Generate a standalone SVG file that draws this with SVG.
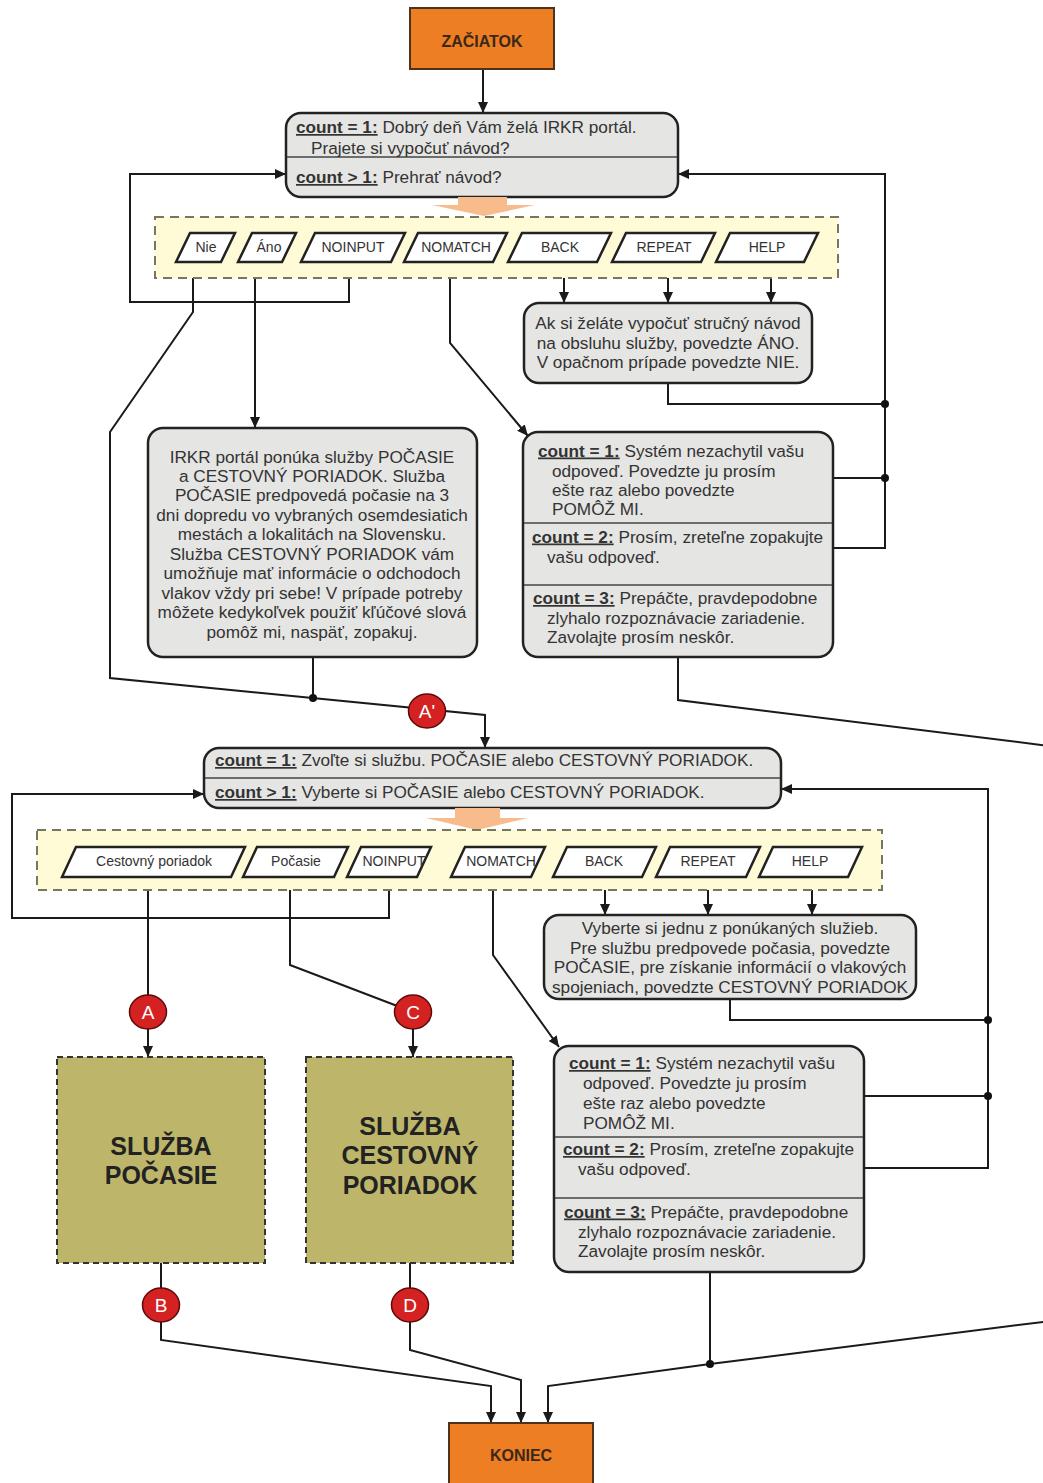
<svg xmlns="http://www.w3.org/2000/svg" width="1043" height="1483" viewBox="0 0 1043 1483">
  <defs>
    <marker id="ah" viewBox="0 0 11 10" refX="11" refY="5" markerWidth="11" markerHeight="10" markerUnits="userSpaceOnUse" orient="auto">
      <path d="M0,0 L11,5 L0,10 z" fill="#1a1a1a"/>
    </marker>
    <style>
      text { font-family: "Liberation Sans", Arial, sans-serif; fill: #333; }
      .box { fill: #E5E5E3; stroke: #222; stroke-width: 2.5; }
      .sep { stroke: #444; stroke-width: 1.6; }
      .t { font-size: 17.2px; }
      .c { text-anchor: middle; }
      .k { font-weight: bold; text-decoration: underline; }
      .band { fill: #FEFBD6; stroke: #77775c; stroke-width: 2; stroke-dasharray: 9 6; }
      .par { fill: #fff; stroke: #222; stroke-width: 2.5; }
      .pt { font-size: 14px; text-anchor: middle; }
      .ln { fill: none; stroke: #1a1a1a; stroke-width: 2; }
      .arr { marker-end: url(#ah); }
      .dot { fill: #111; }
      .term { fill: #EE7E24; stroke: #4e321c; stroke-width: 2; }
      .tt { font-size: 16px; font-weight: bold; text-anchor: middle; fill: #3a2818; }
      .svc { fill: #BDB66A; stroke: #333; stroke-width: 2; stroke-dasharray: 6 4; }
      .st { font-size: 25px; font-weight: bold; text-anchor: middle; fill: #222; }
      .ring { fill: #D42222; stroke: #5e0a0a; stroke-width: 1.5; }
      .rt { font-size: 19px; text-anchor: middle; fill: #fff; }
      .blk { fill: #F8BC8C; }
    </style>
  </defs>

  <!-- connectors -->
  <g id="connectors">
    <path class="ln arr" d="M483,69 V113"/>
    <!-- first menu: loops back to the welcome prompt -->
    <path class="ln arr" d="M349,262 V302 H130 V174 H286"/>
    <path class="ln arr" d="M833,548 H885 V174 H678"/>
    <path class="ln" d="M833,478 H885"/>
    <path class="ln" d="M668,383 V404 H885"/>
    <circle class="dot" cx="885" cy="404" r="4"/>
    <circle class="dot" cx="885" cy="478" r="4"/>
    <!-- first menu outputs -->
    <path class="ln arr" d="M255,262 V428"/>
    <path class="ln arr" d="M450,262 V343 L528,436"/>
    <path class="ln arr" d="M564,262 V303"/>
    <path class="ln arr" d="M668,262 V303"/>
    <path class="ln arr" d="M771,262 V303"/>
    <path class="ln arr" d="M193,262 V312 L110,432 V678 L485,715 V748"/>
    <path class="ln" d="M313,657 V698"/>
    <circle class="dot" cx="313" cy="698" r="4"/>
    <path class="ln" d="M678,657 V700 L1050,746"/>
    <!-- second menu: loops back to the service prompt -->
    <path class="ln arr" d="M389,877 V918 H12 V794 H204"/>
    <path class="ln arr" d="M864,1168 H988 V789 H781"/>
    <path class="ln" d="M864,1096 H988"/>
    <path class="ln" d="M730,999 V1020 H988"/>
    <circle class="dot" cx="988" cy="1020" r="4"/>
    <circle class="dot" cx="988" cy="1096" r="4"/>
    <!-- second menu outputs -->
    <path class="ln" d="M148,877 V1012"/>
    <path class="ln arr" d="M148,1029 V1057"/>
    <path class="ln" d="M290,877 V965 L413,1012"/>
    <path class="ln arr" d="M413,1029 V1057"/>
    <path class="ln arr" d="M493,877 V955 L559,1047"/>
    <path class="ln arr" d="M605,877 V915"/>
    <path class="ln arr" d="M708,877 V915"/>
    <path class="ln arr" d="M812,877 V915"/>
    <!-- paths to the end -->
    <path class="ln" d="M161,1263 V1305"/>
    <path class="ln arr" d="M161,1305 V1340 L491,1386 V1423"/>
    <path class="ln" d="M410,1263 V1305"/>
    <path class="ln arr" d="M410,1305 V1350 L521,1380 V1423"/>
    <path class="ln arr" d="M1050,1321 L710,1364 L548,1386 V1423"/>
    <path class="ln" d="M710,1272 V1364"/>
    <circle class="dot" cx="710" cy="1364" r="4"/>
  </g>

  <!-- start terminal -->
  <g id="start">
    <rect class="term" x="410" y="8" width="144" height="61"/>
    <text class="tt" x="482" y="47">ZAČIATOK</text>
  </g>

  <!-- welcome prompt -->
  <g id="welcome">
    <rect class="box" x="286" y="113" width="392" height="84" rx="15"/>
    <line class="sep" x1="287" y1="157" x2="677" y2="157"/>
    <text class="t" x="296" y="133"><tspan class="k">count = 1:</tspan> Dobrý deň Vám želá IRKR portál.</text>
    <text class="t" x="311" y="154">Prajete si vypočuť návod?</text>
    <text class="t" x="296" y="183"><tspan class="k">count &gt; 1:</tspan> Prehrať návod?</text>
  </g>
  <polygon id="flow1" class="blk" points="458,197 507,197 507,205 535,205 484,216 432,205 458,205"/>

  <!-- first choice band -->
  <g id="menu1">
    <rect class="band" x="155" y="217" width="683" height="61"/>
    <g id="m1-nie"><polygon class="par" points="190,233 235,233 221,262 176,262"/><text class="pt" x="206" y="252">Nie</text></g>
    <g id="m1-ano"><polygon class="par" points="252,233 296,233 282,262 238,262"/><text class="pt" x="269" y="252">Áno</text></g>
    <g id="m1-noinput"><polygon class="par" points="315,233 405,233 391,262 301,262"/><text class="pt" x="353" y="252">NOINPUT</text></g>
    <g id="m1-nomatch"><polygon class="par" points="418,233 507,233 493,262 404,262"/><text class="pt" x="456" y="252">NOMATCH</text></g>
    <g id="m1-back"><polygon class="par" points="522,233 611,233 597,262 508,262"/><text class="pt" x="560" y="252">BACK</text></g>
    <g id="m1-repeat"><polygon class="par" points="626,233 715,233 701,262 612,262"/><text class="pt" x="664" y="252">REPEAT</text></g>
    <g id="m1-help"><polygon class="par" points="730,233 818,233 804,262 716,262"/><text class="pt" x="767" y="252">HELP</text></g>
  </g>

  <!-- help for the first menu -->
  <g id="help1">
    <rect class="box" x="524" y="303" width="288" height="80" rx="15"/>
    <text class="t c" x="668" y="329">Ak si želáte vypočuť stručný návod</text>
    <text class="t c" x="668" y="349">na obsluhu služby, povedzte ÁNO.</text>
    <text class="t c" x="668" y="368">V opačnom prípade povedzte NIE.</text>
  </g>

  <!-- instructions -->
  <g id="guide">
    <rect class="box" x="148" y="428" width="329" height="229" rx="15"/>
    <text class="t c" x="312" y="462.5">IRKR portál ponúka služby POČASIE</text>
    <text class="t c" x="312" y="482">a CESTOVNÝ PORIADOK. Služba</text>
    <text class="t c" x="312" y="501.4">POČASIE predpovedá počasie na 3</text>
    <text class="t c" x="312" y="520.9">dni dopredu vo vybraných osemdesiatich</text>
    <text class="t c" x="312" y="540.3">mestách a lokalitách na Slovensku.</text>
    <text class="t c" x="312" y="559.8">Služba CESTOVNÝ PORIADOK vám</text>
    <text class="t c" x="312" y="579.2">umožňuje mať informácie o odchodoch</text>
    <text class="t c" x="312" y="598.7">vlakov vždy pri sebe! V prípade potreby</text>
    <text class="t c" x="312" y="618.1">môžete kedykoľvek použiť kľúčové slová</text>
    <text class="t c" x="312" y="637.6">pomôž mi, naspäť, zopakuj.</text>
  </g>

  <!-- no-match prompt, first menu -->
  <g id="nomatch1">
    <rect class="box" x="523" y="432" width="310" height="225" rx="15"/>
    <line class="sep" x1="524" y1="523" x2="832" y2="523"/>
    <line class="sep" x1="524" y1="585" x2="832" y2="585"/>
    <text class="t" x="538" y="456.5"><tspan class="k">count = 1:</tspan> Systém nezachytil vašu</text>
    <text class="t" x="552" y="476.5">odpoveď. Povedzte ju prosím</text>
    <text class="t" x="552" y="496">ešte raz alebo povedzte</text>
    <text class="t" x="552" y="515">POMÔŽ MI.</text>
    <text class="t" x="532" y="542.5"><tspan class="k">count = 2:</tspan> Prosím, zreteľne zopakujte</text>
    <text class="t" x="547" y="562.5">vašu odpoveď.</text>
    <text class="t" x="533" y="604"><tspan class="k">count = 3:</tspan> Prepáčte, pravdepodobne</text>
    <text class="t" x="547" y="624">zlyhalo rozpoznávacie zariadenie.</text>
    <text class="t" x="547" y="643">Zavolajte prosím neskôr.</text>
  </g>

  <g id="conn-a1"><ellipse class="ring" cx="427" cy="711" rx="18.5" ry="17"/><text class="rt" x="427" y="718">A'</text></g>

  <!-- service prompt -->
  <g id="choose">
    <rect class="box" x="204" y="748" width="577" height="60" rx="15"/>
    <line class="sep" x1="205" y1="778" x2="780" y2="778"/>
    <text class="t" x="215" y="766"><tspan class="k">count = 1:</tspan> Zvoľte si službu. POČASIE alebo CESTOVNÝ PORIADOK.</text>
    <text class="t" x="215" y="798"><tspan class="k">count &gt; 1:</tspan> Vyberte si POČASIE alebo CESTOVNÝ PORIADOK.</text>
  </g>
  <polygon id="flow2" class="blk" points="455,808 500,808 500,818 528,818 477,830 426,818 455,818"/>

  <!-- second choice band -->
  <g id="menu2">
    <rect class="band" x="37" y="830" width="845" height="60"/>
    <g id="m2-train"><polygon class="par" points="76,847 245,847 231,877 62,877"/><text class="pt" x="154" y="866">Cestovný poriadok</text></g>
    <g id="m2-weather"><polygon class="par" points="257,847 348,847 334,877 243,877"/><text class="pt" x="296" y="866">Počasie</text></g>
    <g id="m2-noinput"><polygon class="par" points="361,847 431,847 417,877 347,877"/><text class="pt" x="394" y="866">NOINPUT</text></g>
    <g id="m2-nomatch"><polygon class="par" points="465,847 545,847 531,877 451,877"/><text class="pt" x="501" y="866">NOMATCH</text></g>
    <g id="m2-back"><polygon class="par" points="567,847 656,847 642,877 553,877"/><text class="pt" x="604" y="866">BACK</text></g>
    <g id="m2-repeat"><polygon class="par" points="670,847 760,847 746,877 656,877"/><text class="pt" x="708" y="866">REPEAT</text></g>
    <g id="m2-help"><polygon class="par" points="773,847 862,847 848,877 759,877"/><text class="pt" x="810" y="866">HELP</text></g>
  </g>

  <!-- help for the second menu -->
  <g id="help2">
    <rect class="box" x="544" y="915" width="372" height="84" rx="15"/>
    <text class="t c" x="730" y="934">Vyberte si jednu z ponúkaných služieb.</text>
    <text class="t c" x="730" y="954">Pre službu predpovede počasia, povedzte</text>
    <text class="t c" x="730" y="973">POČASIE, pre získanie informácií o vlakových</text>
    <text class="t c" x="730" y="993">spojeniach, povedzte CESTOVNÝ PORIADOK</text>
  </g>

  <!-- no-match prompt, second menu -->
  <g id="nomatch2">
    <rect class="box" x="554" y="1046" width="310" height="226" rx="15"/>
    <line class="sep" x1="555" y1="1137" x2="863" y2="1137"/>
    <line class="sep" x1="555" y1="1198" x2="863" y2="1198"/>
    <text class="t" x="569" y="1069"><tspan class="k">count = 1:</tspan> Systém nezachytil vašu</text>
    <text class="t" x="583" y="1089">odpoveď. Povedzte ju prosím</text>
    <text class="t" x="583" y="1109">ešte raz alebo povedzte</text>
    <text class="t" x="583" y="1128.5">POMÔŽ MI.</text>
    <text class="t" x="563" y="1155"><tspan class="k">count = 2:</tspan> Prosím, zreteľne zopakujte</text>
    <text class="t" x="578" y="1175">vašu odpoveď.</text>
    <text class="t" x="564" y="1217.5"><tspan class="k">count = 3:</tspan> Prepáčte, pravdepodobne</text>
    <text class="t" x="578" y="1237.5">zlyhalo rozpoznávacie zariadenie.</text>
    <text class="t" x="578" y="1256.5">Zavolajte prosím neskôr.</text>
  </g>

  <!-- services -->
  <g id="svc-weather">
    <rect class="svc" x="57" y="1057" width="208" height="206"/>
    <text class="st" x="161" y="1155">SLUŽBA</text>
    <text class="st" x="161" y="1184">POČASIE</text>
  </g>
  <g id="svc-train">
    <rect class="svc" x="306" y="1057" width="207" height="206"/>
    <text class="st" x="410" y="1135">SLUŽBA</text>
    <text class="st" x="410" y="1164">CESTOVNÝ</text>
    <text class="st" x="410" y="1194">PORIADOK</text>
  </g>

  <g id="conn-a"><ellipse class="ring" cx="148" cy="1012" rx="18.5" ry="17"/><text class="rt" x="148" y="1019">A</text></g>
  <g id="conn-c"><ellipse class="ring" cx="413" cy="1012" rx="18.5" ry="17"/><text class="rt" x="413" y="1019">C</text></g>
  <g id="conn-b"><ellipse class="ring" cx="161" cy="1305" rx="18.5" ry="17"/><text class="rt" x="161" y="1312">B</text></g>
  <g id="conn-d"><ellipse class="ring" cx="410" cy="1305" rx="18.5" ry="17"/><text class="rt" x="410" y="1312">D</text></g>

  <!-- end terminal -->
  <g id="end">
    <rect class="term" x="449" y="1423" width="144" height="70"/>
    <text class="tt" x="521" y="1461">KONIEC</text>
  </g>
</svg>
